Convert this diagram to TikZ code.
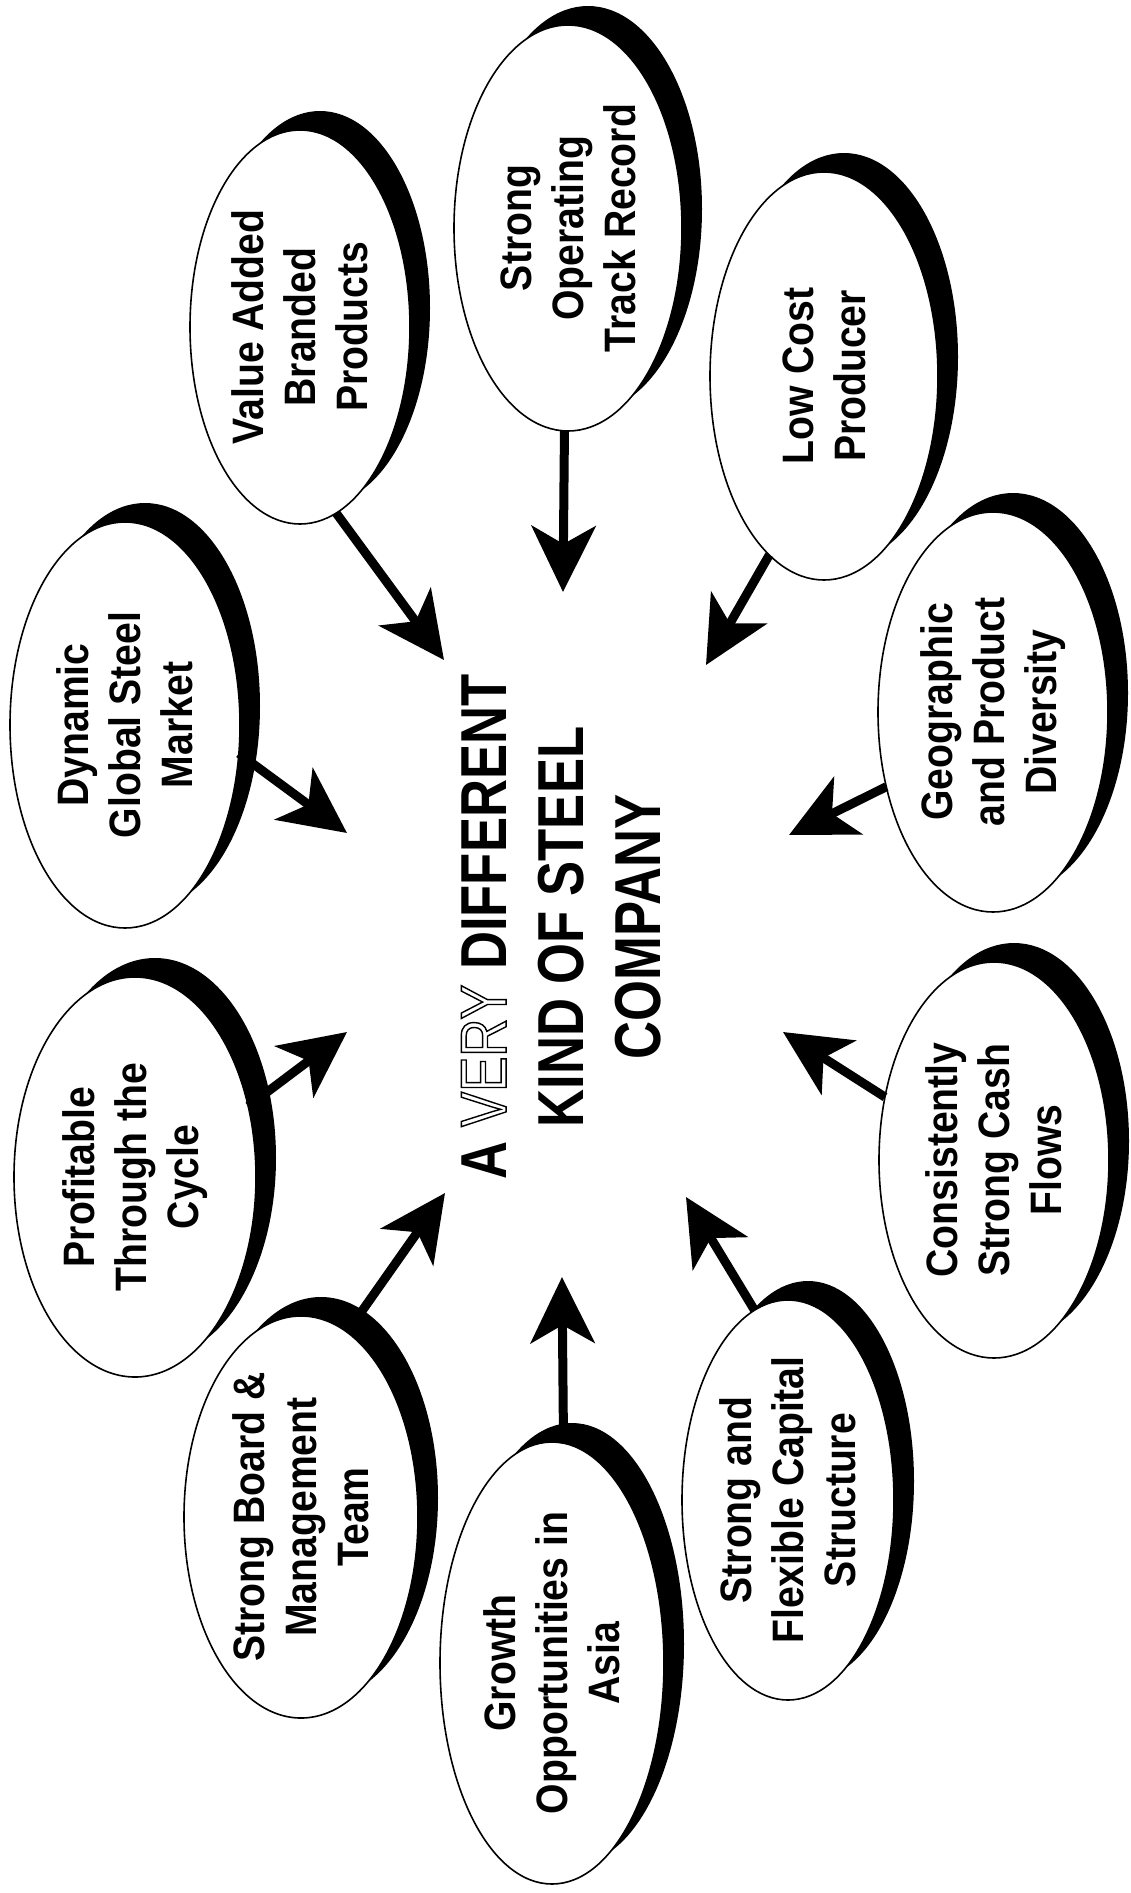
\documentclass[tikz,border=0pt]{standalone}
\usepackage{fontspec}
\setmainfont{Liberation Sans}
\newfontfamily\bubfont{Liberation Sans}[FakeStretch=0.89]
\newfontfamily\bigfont{Liberation Sans}[FakeStretch=0.81]
\usetikzlibrary{arrows.meta,shapes.geometric}

\newcommand\outlinetext[1]{{\mdseries\special{pdf:literal direct 1 Tr 1.4 w}#1\special{pdf:literal direct 0 Tr}}}

\tikzset{
  bubble/.style={ellipse, draw=black, line width=1.6pt, fill=white, inner sep=0pt, outer sep=0pt, rotate=90},
  bubshadow/.style={ellipse, fill=black, inner sep=0pt, outer sep=0pt, rotate=90},
  btext/.style={rotate=90, align=center, inner sep=0pt,
    font=\bubfont\bfseries\fontsize{44}{52}\selectfont},
  titletext/.style={rotate=90, align=center, inner sep=0pt,
    font=\bigfont\bfseries\fontsize{65}{77}\selectfont},
  arr/.style={line width=9pt, -{Stealth[length=66pt,width=64pt,inset=18pt]}},
}

% name, cx, cy, rx, ry, text
\newcommand\bub[6]{%
  \node[bubshadow, minimum width={2*#5pt}, minimum height={2*#4pt}] (#1s) at (#2+20,#3-19) {};
  \node[bubble, minimum width={2*#5pt}, minimum height={2*#4pt}] (#1) at (#2,#3) {};
  \node[btext] (#1t) at (#2,#3) {#6};
}

\begin{document}
\begin{tikzpicture}[x=1pt,y=-1pt]
\useasboundingbox (0,0) rectangle (1131,1893);
\fill[white] (0,0) rectangle (1131,1893);

\bub{b1}{568}{228}{114}{203}{Strong\\Operating\\Track Record}
\bub{b2}{300}{327}{110}{197}{Value Added\\Branded\\Products}
\bub{b3}{824}{376}{114}{204}{Low Cost\\Producer}
\bub{b4}{125}{725}{115}{203}{Dynamic\\Global Steel\\Market}
\bub{b5}{993}{712}{115}{200}{Geographic\\and Product\\Diversity}
\bub{b6}{135}{1177}{121}{200}{Profitable\\Through the\\Cycle}
\bub{b7}{994}{1160}{115}{198}{Consistently\\Strong Cash\\Flows}
\bub{b8}{301}{1517}{117}{201}{Strong Board \&\\Management\\Team}
\bub{b9}{788}{1500}{106}{200}{Strong and\\Flexible Capital\\Structure}
\bub{b10}{552}{1663}{112}{221}{Growth\\Opportunities in\\Asia}

\coordinate (t1) at (563,592);
\coordinate (t2) at (444,660);
\coordinate (t3) at (706,665);
\coordinate (t4) at (347,833);
\coordinate (t5) at (789,835);
\coordinate (t6) at (347,1032);
\coordinate (t7) at (783,1032);
\coordinate (t8) at (445,1193);
\coordinate (t9) at (686,1197);
\coordinate (t10) at (562,1277);

\draw[arr] (b1.179) -- (t1);
\draw[arr] (b2.191) -- (t2);
\draw[arr] (b3.163) -- (t3);
\draw[arr] (b4.256) -- (t4);
\draw[arr] (b5.125) -- (t5);
\draw[arr] (b6.302) -- (t6);
\draw[arr] (b7.60) -- (t7);
\draw[arr] (b8.346) -- (t8);
\draw[arr] (b9.10) -- (t9);
\draw[arr] (b10.357) -- (t10);

\node[titletext] (title) at (561,927) {A \outlinetext{VERY} DIFFERENT\\KIND OF STEEL\\COMPANY};
\end{tikzpicture}
\end{document}
